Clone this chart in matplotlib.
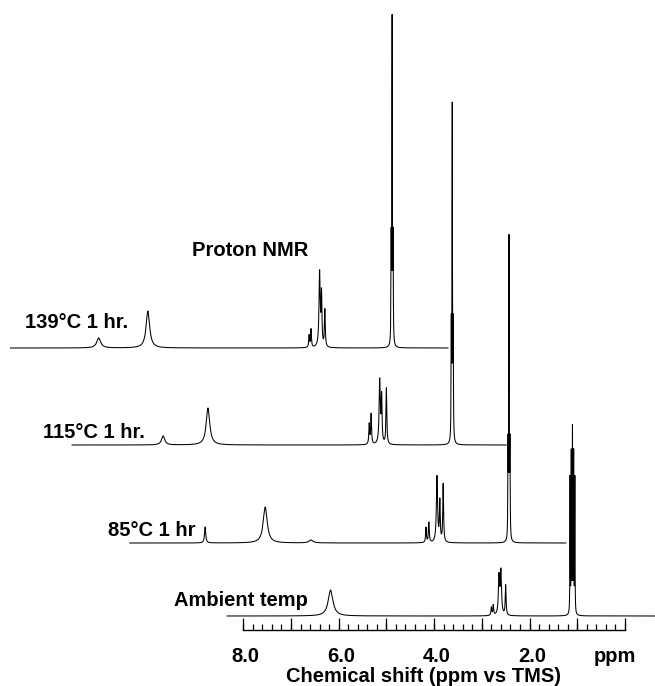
import matplotlib
matplotlib.use('Agg')
import matplotlib.pyplot as plt
import numpy as np

plt.rcParams['font.family'] = ['Liberation Sans', 'DejaVu Sans']

# peak lists (local ppm, height, half width)
amb_centers = [6.17, 2.80, 2.76, 2.64, 2.60, 2.50, 1.15, 1.125, 1.10, 1.075, 1.05]
amb_heights = [26, 8, 10, 38, 43, 30, 135, 158, 182, 158, 135]
amb_widths = [0.06, 0.01, 0.01, 0.015, 0.015, 0.01, 0.004, 0.004, 0.004, 0.004, 0.004]

t85_centers = [7.47, 6.21, 5.25, 2.84, 2.78, 2.61, 2.55, 2.48, 1.12, 1.10, 1.08]
t85_heights = [16, 36, 3, 15, 20, 66, 40, 58, 90, 298, 90]
t85_widths = [0.015, 0.05, 0.05, 0.01, 0.01, 0.015, 0.01, 0.01, 0.005, 0.005, 0.005]

t115_centers = [7.16, 6.22, 2.84, 2.80, 2.62, 2.58, 2.48, 1.12, 1.10, 1.08]
t115_heights = [9, 37, 20, 30, 64, 45, 56, 110, 330, 110]
t115_widths = [0.04, 0.045, 0.01, 0.01, 0.015, 0.01, 0.01, 0.005, 0.005, 0.005]

t139_centers = [7.25, 6.22, 2.84, 2.80, 2.62, 2.58, 2.51, 1.12, 1.10, 1.08]
t139_heights = [10, 37, 12, 18, 75, 50, 37, 100, 322, 100]
t139_widths = [0.05, 0.045, 0.01, 0.01, 0.015, 0.01, 0.01, 0.005, 0.005, 0.005]

labels = ['Ambient temp', '85\u00b0C 1 hr', '115\u00b0C 1 hr.', '139\u00b0C 1 hr.']
major_ticks = [8.0, 6.0, 4.0, 2.0]

W, H = 655, 686
fig = plt.figure(figsize=(W / 100, H / 100), dpi=100)
ax = fig.add_axes([0, 0, 1, 1])
# 47.7 px per ppm, 8.0 ppm at x = 243 px
ax.set_xlim(13.10, -0.63)
ax.set_ylim(0, H)
ax.axis('off')


def spectrum(x, centers, heights, widths):
    y = np.zeros_like(x)
    for c, h, w in zip(centers, heights, widths):
        y += h / (1 + ((x - c) / w) ** 2)
    return y


# (peaks, ppm shift, baseline, local start, local end)
traces = [
    ((amb_centers, amb_heights, amb_widths), 0.0, 70, 8.34, -0.62),
    ((t85_centers, t85_heights, t85_widths), 1.33, 143, 9.05, -0.09),
    ((t115_centers, t115_heights, t115_widths), 2.52, 241, 9.07, -0.03),
    ((t139_centers, t139_heights, t139_widths), 3.78, 338, 9.10, -0.07),
]
for (c, h, w), shift, base, start, end in traces:
    x = np.linspace(end, start, 30000)
    y = spectrum(x, c, h, w)
    ax.plot(x + shift, base + y, color='black', lw=0.75)

# ppm ruler
ruler_y = 56
fs = 14.5
ax.plot([8.0, 0.0], [ruler_y, ruler_y], color='black', lw=1.0)
minor = np.arange(0, 8.01, 0.2)
ax.vlines(minor, ruler_y, ruler_y + 6, color='black', lw=0.9)
ax.vlines(np.arange(0, 9, 1.0), ruler_y, ruler_y + 12, color='black', lw=0.9)
for t in major_ticks:
    ax.text(t - 0.05, 29, f'{t:.1f}', ha='center', va='center', fontsize=fs,
            fontweight='bold')
ax.text(0.21, 29, 'ppm', ha='center', va='center', fontsize=fs, fontweight='bold')
fig.text(424 / W, 1 - 676 / H, 'Chemical shift (ppm vs TMS)', ha='center',
         va='center', fontsize=fs, fontweight='bold')
fig.text(250 / W, 1 - 250 / H, 'Proton NMR', ha='center', va='center',
         fontsize=fs, fontweight='bold')

label_pos = [(308, 601, 'right'), (195, 530, 'right'), (43, 433, 'left'), (25, 322, 'left')]
for (lx, ly, ha), text in zip(label_pos, labels):
    fig.text(lx / W, 1 - ly / H, text, ha=ha, va='center', fontsize=fs,
             fontweight='bold')

plt.savefig('out.png', dpi=100, facecolor='white')
plt.close()
